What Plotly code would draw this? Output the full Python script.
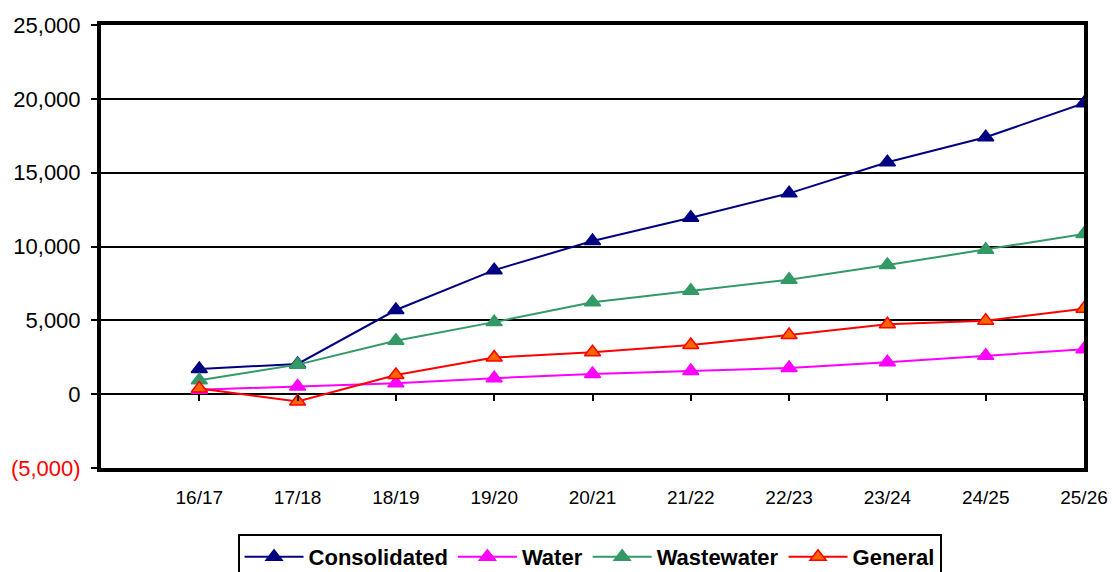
import plotly.graph_objects as go

categories = ["16/17", "17/18", "18/19", "19/20", "20/21", "21/22", "22/23", "23/24", "24/25", "25/26"]
consolidated = [1700, 2050, 5700, 8400, 10370, 11950, 13600, 15700, 17400, 19700]
water = [300, 520, 740, 1080, 1370, 1570, 1770, 2160, 2600, 3040]
wastewater = [950, 2000, 3620, 4880, 6220, 7000, 7750, 8750, 9780, 10850]
general = [380, -500, 1300, 2480, 2840, 3330, 4000, 4730, 4980, 5780]

ytick_vals = [-5000, 0, 5000, 10000, 15000, 20000, 25000]
ytick_text = ["<span style='color:#FF0000'>(5,000)</span>", "0", "5,000", "10,000", "15,000", "20,000", "25,000"]

xpos = list(range(len(categories)))
FONT = "Liberation Sans, Arial, sans-serif"

series = [
    ("Consolidated", consolidated, "#000080", "#000080"),
    ("Water", water, "#FF00FF", "#FF00FF"),
    ("Wastewater", wastewater, "#339966", "#339966"),
    ("General", general, "#FF0000", "#FF6600"),
]

fig = go.Figure()
for name, vals, lc, fc in series:
    fig.add_trace(go.Scatter(
        x=xpos, y=vals, name=name, mode="lines+markers",
        line=dict(color=lc, width=2),
        marker=dict(symbol="triangle-up", size=14, color=fc,
                    line=dict(color=lc, width=1.5)),
    ))

# invisible trace to host the tick axis at the zero line
fig.add_trace(go.Scatter(x=xpos, y=consolidated, xaxis="x2", yaxis="y",
                         mode="markers", marker=dict(opacity=0),
                         showlegend=False, hoverinfo="skip"))

fig.update_layout(
    width=1112, height=572,
    margin=dict(l=101, r=28, t=25, b=104, autoexpand=False),
    paper_bgcolor="white", plot_bgcolor="white",
    font=dict(family=FONT, color="black"),
    xaxis=dict(
        range=[-1, 9], tickvals=xpos, ticktext=categories,
        showgrid=False, zeroline=False,
        showline=True, linecolor="black", linewidth=4, mirror=True,
        ticks="outside", ticklen=9, tickcolor="rgba(0,0,0,0)",
        tickfont=dict(size=19, family=FONT, color="black"),
        automargin=False,
    ),
    xaxis2=dict(
        range=[-1, 9], tickvals=xpos, overlaying="x", anchor="free",
        position=1/6, side="bottom",
        showgrid=False, zeroline=False, showline=False,
        ticks="outside", ticklen=6, tickwidth=2, tickcolor="black",
        showticklabels=False,
    ),
    yaxis=dict(
        range=[-5000, 25000], tickvals=ytick_vals, ticktext=ytick_text,
        showgrid=True, gridcolor="black", gridwidth=2,
        zeroline=True, zerolinecolor="black", zerolinewidth=2,
        showline=True, linecolor="black", linewidth=4, mirror=True,
        ticks="outside", ticklen=6, tickwidth=2, tickcolor="black",
        tickfont=dict(size=22, family=FONT, color="black"),
        ticklabelstandoff=6, automargin=False,
    ),
    legend=dict(
        orientation="h", x=0.497, xanchor="center", y=-0.149, yanchor="top",
        bordercolor="black", borderwidth=2,
        font=dict(size=22, family=FONT, color="black", weight="bold"),
        itemwidth=59,
    ),
    showlegend=True,
)

fig.write_html("out.html")
